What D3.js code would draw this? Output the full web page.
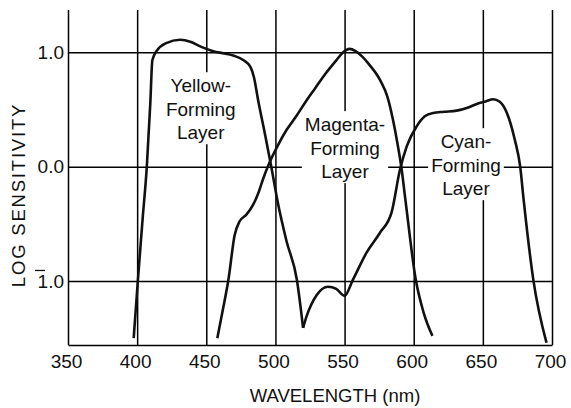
<!DOCTYPE html>
<html>
<head>
<meta charset="utf-8">
<script src="https://cdn.jsdelivr.net/npm/d3@7"></script>
<style>
  body { margin: 0; background: #fff; }
  svg { display: block; font-family: "Liberation Sans", Arial, Helvetica, sans-serif; }
</style>
</head>
<body>
<svg id="chart" width="571" height="408"></svg>
<script>
// wavelength ticks (nm) and log sensitivity ticks
var xTicks = [350, 400, 450, 500, 550, 600, 650, 700];
var yTicks = [-1, 0, 1];

// yellow-forming layer
var yellowNm = [397.5, 400.5, 404, 407, 409.5, 411, 414, 421, 431, 439, 446, 455, 463, 470, 477, 482, 484.5, 487.5, 492.5, 497, 501.5, 508, 515.5, 520];
var yellowLog = [-1.50, -1.00, -0.45, 0.00, 0.55, 0.93, 1.01, 1.08, 1.11, 1.09, 1.05, 1.01, 0.99, 0.97, 0.93, 0.87, 0.78, 0.58, 0.28, 0.00, -0.30, -0.65, -0.99, -1.41];

// magenta-forming layer
var magentaNm = [458, 462, 466, 470.5, 474, 479, 484, 488, 491, 495.5, 501.5, 508, 515, 522, 529, 536, 544, 549, 553.5, 558, 563, 568, 576, 581, 585, 588, 591, 594, 601.5, 607, 613.5];
var magentaLog = [-1.50, -1.25, -0.99, -0.60, -0.48, -0.42, -0.33, -0.22, -0.11, 0.03, 0.18, 0.32, 0.44, 0.57, 0.69, 0.81, 0.93, 1.00, 1.03, 1.01, 0.96, 0.89, 0.75, 0.61, 0.41, 0.22, 0.00, -0.29, -0.99, -1.27, -1.48];

// cyan-forming layer
var cyanNm = [520, 522.5, 530, 538, 544, 550, 556, 566, 575.5, 584, 590, 595, 602, 608, 614, 622, 631, 640, 646, 652, 657.5, 662, 667, 673, 677, 679.5, 686.5, 696];
var cyanLog = [-1.41, -1.31, -1.12, -1.05, -1.07, -1.13, -0.99, -0.75, -0.58, -0.40, -0.03, 0.18, 0.35, 0.44, 0.47, 0.48, 0.49, 0.52, 0.55, 0.57, 0.59, 0.57, 0.48, 0.24, 0.00, -0.29, -0.99, -1.54];

var layerNames = [["Yellow-", "Forming", "Layer"], ["Magenta-", "Forming", "Layer"], ["Cyan-", "Forming", "Layer"]];
// label anchors in data units (centre nm, log value of middle line baseline)
var labelNm = [446, 550.3, 637.8];
var labelLog = [0.445, 0.105, -0.044];

var svg = d3.select("#chart"),
  margin = {top: 10, right: 19, bottom: 63, left: 68},
  width = +svg.attr("width") - margin.left - margin.right,
  height = +svg.attr("height") - margin.top - margin.bottom;

var x = d3.scaleLinear().domain([350, 700]).range([0, width]);
var y = d3.scaleLinear().domain([-1.56, 1.37]).range([height, 0]);

var g = svg.append("g")
  .attr("transform", "translate(" + margin.left + "," + margin.top + ")");

// vertical grid + x axis
var xAxis = g.append("g")
  .attr("class", "x-axis")
  .attr("transform", "translate(0," + height + ")")
  .call(d3.axisBottom(x).tickValues(xTicks).tickSize(-height).tickPadding(10).tickSizeOuter(0));

xAxis.select(".domain").attr("stroke", "#000").attr("stroke-width", 1.6);
xAxis.selectAll(".tick line").attr("stroke", "#000").attr("stroke-width", 1.5);
xAxis.selectAll(".tick text")
  .attr("font-size", 19)
  .attr("fill", "#111")
  .attr("dx", -2)
  .attr("font-family", null);

// horizontal grid + y axis
var yAxis = g.append("g")
  .attr("class", "y-axis")
  .call(d3.axisLeft(y).tickValues(yTicks).tickSize(-width).tickPadding(4)
    .tickFormat(function(d) { return d3.format(".1f")(Math.abs(d)); }));

yAxis.select(".domain").remove();
yAxis.selectAll(".tick line").attr("stroke", "#000").attr("stroke-width", 1.5);
yAxis.selectAll(".tick text")
  .attr("font-size", 19)
  .attr("fill", "#111")
  .attr("font-family", null);

// bar over the 1 for negative characteristic (bar-one notation)
yAxis.selectAll(".tick")
  .filter(function(d) { return d < 0; })
  .append("line")
  .attr("x1", -33).attr("x2", -23)
  .attr("y1", -11).attr("y2", -11)
  .attr("stroke", "#111")
  .attr("stroke-width", 1.3);

// layer labels on white patches that break the grid
var labels = g.append("g").attr("class", "labels");
layerNames.forEach(function(lines, i) {
  var lg = labels.append("g");
  var bg = lg.append("rect").attr("fill", "#fff");
  var t = lg.append("text")
    .attr("text-anchor", "middle")
    .attr("font-size", 19)
    .attr("fill", "#111");
  lines.forEach(function(s, j) {
    t.append("tspan")
      .attr("x", x(labelNm[i]))
      .attr("y", y(labelLog[i]) + (j - 1) * 23.5)
      .text(s);
  });
  var bb = t.node().getBBox();
  bg.attr("x", bb.x - 3).attr("y", bb.y - 3)
    .attr("width", bb.width + 6).attr("height", bb.height + 4);
});

// curves
var line = d3.line()
  .x(function(d) { return x(d[0]); })
  .y(function(d) { return y(d[1]); })
  .curve(d3.curveMonotoneX);

var curves = [
  d3.zip(yellowNm, yellowLog),
  d3.zip(magentaNm, magentaLog),
  d3.zip(cyanNm, cyanLog)
];

g.append("g")
  .attr("class", "curves")
  .selectAll("path")
  .data(curves)
  .enter().append("path")
  .attr("d", line)
  .attr("fill", "none")
  .attr("stroke", "#111")
  .attr("stroke-width", 2.6)
  .attr("stroke-linejoin", "round");

// axis titles
svg.append("text")
  .attr("x", 335)
  .attr("y", 402)
  .attr("text-anchor", "middle")
  .attr("font-size", 18.5)
  .attr("fill", "#111")
  .text("WAVELENGTH (nm)");

svg.append("text")
  .attr("transform", "translate(25,195) rotate(-90)")
  .attr("text-anchor", "middle")
  .attr("font-size", 18.5)
  .attr("letter-spacing", 1.8)
  .attr("fill", "#111")
  .text("LOG SENSITIVITY");
</script>
</body>
</html>
